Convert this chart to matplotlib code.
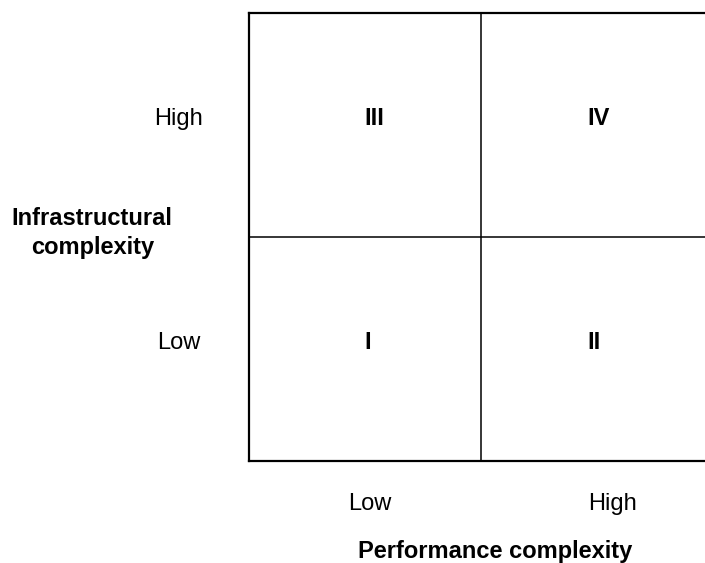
import matplotlib
matplotlib.use("Agg")
import matplotlib.pyplot as plt

plt.rcParams['font.family'] = ['Liberation Sans', 'DejaVu Sans']

# quadrant labels and where they sit (column/row in 0..2 units, row 0 = Low)
quadrants = ["I", "II", "III", "IV"]
quad_x = [0.51, 1.485, 0.54, 1.505]
quad_y = [0.53, 0.53, 1.53, 1.53]
row_labels = ["Low", "High"]
row_y = [0.53, 1.53]
col_labels = ["Low", "High"]
col_x = [0.52, 1.565]
y_title = "Infrastructural\ncomplexity"
x_title = "Performance complexity"

fig = plt.figure(figsize=(7.05, 5.63), dpi=100)
# the box runs past the right edge of the picture, as in the original
ax = fig.add_axes([248.6 / 705, 101.6 / 563, 465.4 / 705, 448.1 / 563])
ax.set_xlim(0, 2)
ax.set_ylim(0, 2)
ax.set_xticks([])
ax.set_yticks([])
for s in ax.spines.values():
    s.set_linewidth(1.6)
    s.set_color("black")
ax.axvline(1, color="black", lw=1.1)
ax.axhline(1, color="black", lw=1.1)

for q, x, y in zip(quadrants, quad_x, quad_y):
    ax.text(x, y, q, ha="center", va="center", fontsize=17, fontweight="bold")

for lab, y in zip(row_labels, row_y):
    ax.text(-0.3, y, lab, ha="center", va="center", fontsize=17)
for lab, x in zip(col_labels, col_x):
    ax.text(x, -0.19, lab, ha="center", va="center", fontsize=17)

ax.text(-0.672, 1.02, y_title, ha="center", va="center", fontsize=17,
        fontweight="bold", linespacing=1.3)
ax.text(1.06, -0.40, x_title, ha="center", va="center", fontsize=17,
        fontweight="bold")

fig.savefig("out.png", dpi=100)
